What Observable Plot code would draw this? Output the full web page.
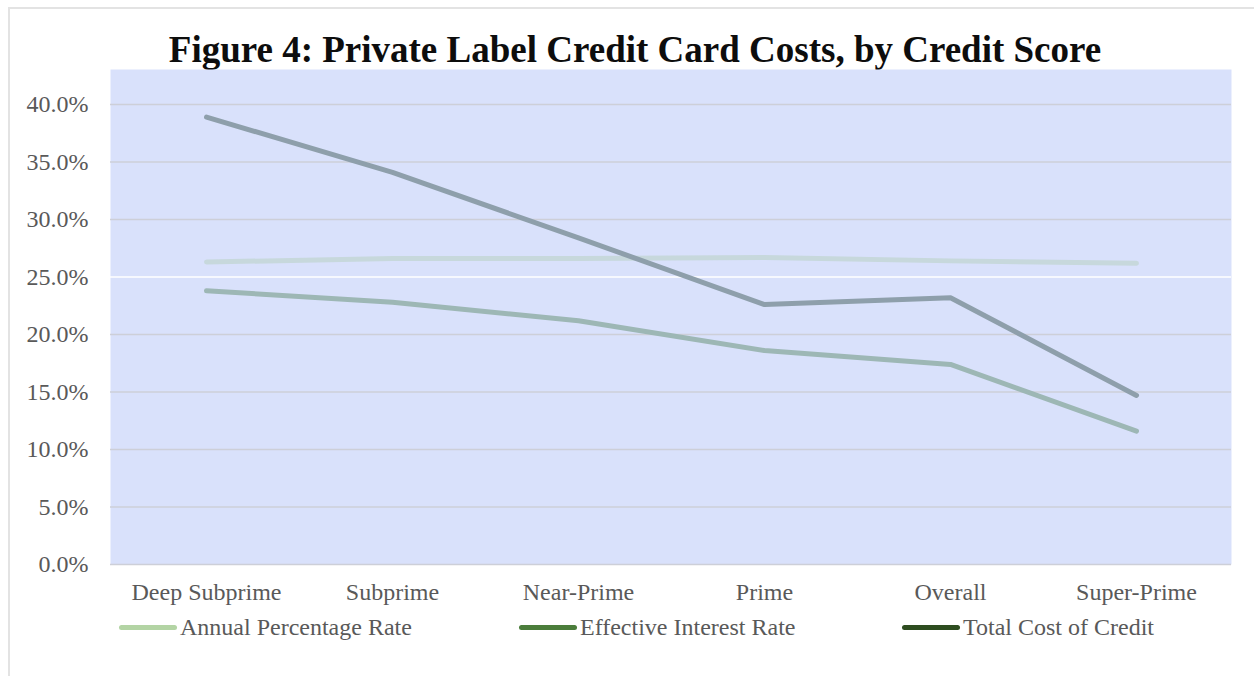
<!DOCTYPE html>
<html>
<head>
<meta charset="utf-8">
<script src="https://cdn.jsdelivr.net/npm/d3@7"></script>
<script src="https://cdn.jsdelivr.net/npm/@observablehq/plot@0.6"></script>
<style>
  html, body { margin: 0; padding: 0; background: #ffffff; }
  #wrap { position: relative; width: 1254px; height: 676px; overflow: hidden; font-family: "Liberation Serif", "Times New Roman", serif; }
  #border { position: absolute; left: 8px; top: 7px; width: 1300px; height: 720px; border: 2px solid #e3e3e3; box-sizing: border-box; }
  #title { position: absolute; left: 16px; top: 28px; width: 1238px; text-align: center; font-weight: bold; font-size: 37px; color: #0d0d0d; line-height: 44px; white-space: nowrap; }
  #chart { position: absolute; left: 0; top: 69px; }
  #legend { position: absolute; left: 0; top: 612px; width: 1254px; height: 30px; }
  .item { position: absolute; top: 0; height: 30px; display: flex; align-items: center; font-size: 24px; color: #595959; white-space: nowrap; }
  .sw { width: 58px; height: 5px; border-radius: 3px; margin-right: 3px; }
</style>
</head>
<body>
<div id="wrap">
  <div id="border"></div>
  <div id="title">Figure 4: Private Label Credit Card Costs, by Credit Score</div>
  <div id="chart"></div>
  <div id="legend"></div>
</div>
<script>
const categories = ["Deep Subprime", "Subprime", "Near-Prime", "Prime", "Overall", "Super-Prime"];
const annualPercentageRate = [26.3, 26.6, 26.6, 26.7, 26.4, 26.2];
const effectiveInterestRate = [23.8, 22.8, 21.2, 18.6, 17.4, 11.6];
const totalCostOfCredit = [38.9, 34.1, 28.4, 22.6, 23.2, 14.7];
const seriesNames = ["Annual Percentage Rate", "Effective Interest Rate", "Total Cost of Credit"];
const yTicks = [0, 5, 10, 15, 20, 25, 30, 35, 40];

const lineColors = ["#c7d8dc", "#9db7b5", "#8e9fab"];
const legendColors = ["#b3d4a4", "#4b7d3b", "#2e4d20"];
const lineWidths = [5, 5, 5];

const seriesValues = [annualPercentageRate, effectiveInterestRate, totalCostOfCredit];
const rows = [];
seriesNames.forEach((s, si) => {
  categories.forEach((c, ci) => rows.push({series: s, category: c, value: seriesValues[si][ci]}));
});

const plot = Plot.plot({
  width: 1254,
  height: 540,
  marginTop: 0,
  marginBottom: 45,
  marginLeft: 110,
  marginRight: 23,
  style: { fontFamily: "'Liberation Serif', 'Times New Roman', serif", background: "transparent", overflow: "visible" },
  x: { type: "point", domain: categories, padding: 0.5 },
  y: { domain: [0, 43.04] },
  marks: [
    Plot.frame({ fill: "#d9e1fb", stroke: null }),
    Plot.ruleY(yTicks.filter(d => d !== 25), { stroke: "#cdcfd8", strokeWidth: 1.5 }),
    Plot.ruleY([25], { stroke: "#ffffff", strokeWidth: 1.5 }),
    ...seriesNames.map((s, si) =>
      Plot.line(rows.filter(r => r.series === s), {
        x: "category", y: "value",
        stroke: lineColors[si], strokeWidth: lineWidths[si],
        strokeLinecap: "round", strokeLinejoin: "round"
      })
    ),
    Plot.axisY({ ticks: yTicks, tickFormat: d => d.toFixed(1) + "%", tickSize: 0, tickPadding: 22, fontSize: 24, fill: "#595959", label: null }),
    Plot.axisX({ tickSize: 0, tickPadding: 18, fontSize: 24, fill: "#595959", label: null })
  ]
});
document.getElementById("chart").appendChild(plot);

const legendLefts = [119, 519, 902];
const legend = document.getElementById("legend");
seriesNames.forEach((s, i) => {
  const item = document.createElement("div");
  item.className = "item";
  item.style.left = legendLefts[i] + "px";
  const sw = document.createElement("div");
  sw.className = "sw";
  sw.style.background = legendColors[i];
  const t = document.createElement("span");
  t.textContent = s;
  item.appendChild(sw);
  item.appendChild(t);
  legend.appendChild(item);
});
</script>
</body>
</html>
